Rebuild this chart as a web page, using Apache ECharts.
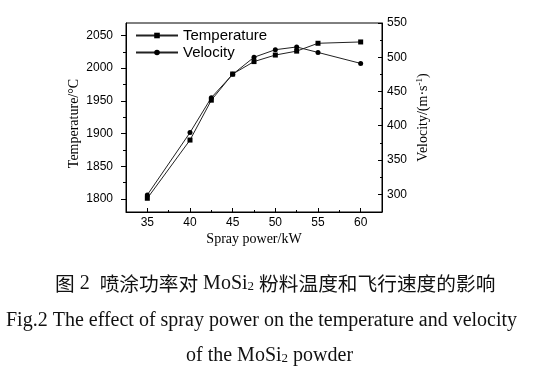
<!DOCTYPE html>
<html>
<head>
<meta charset="utf-8">
<script src="https://cdn.jsdelivr.net/npm/echarts@6/dist/echarts.min.js"></script>
<style>
html,body{margin:0;padding:0;background:#fff;}
#main{width:538px;height:383px;}
</style>
</head>
<body>
<div id="main"></div>
<script>
// Data
const sprayPower = [35, 40, 42.5, 45, 47.5, 50, 52.5, 55, 60];
const temperature = [1801, 1890, 1951, 1991, 2010, 2020, 2026, 2038, 2040];
const velocity = [299, 390, 441, 475, 500, 511, 515, 507, 491];

const xTicks = [35, 40, 45, 50, 55, 60];
const xMinorTicks = [37.5, 42.5, 47.5, 52.5, 57.5];
const tempTicks = [1800, 1850, 1900, 1950, 2000, 2050];
const tempMinorTicks = [1825, 1875, 1925, 1975, 2025];
const velTicks = [300, 350, 400, 450, 500, 550];
const velMinorTicks = [325, 375, 425, 475, 525];

const seriesNames = ['Temperature', 'Velocity'];

const tempData = sprayPower.map((x, i) => [x, temperature[i]]);
const velData = sprayPower.map((x, i) => [x, velocity[i]]);

const BLACK = '#000';
const sans = 'Liberation Sans, Arial, sans-serif';
const serif = 'Liberation Serif, Times New Roman, Noto Sans CJK SC, serif';
const cjk = 'Noto Sans CJK SC, sans-serif';
const plain = v => String(v);

const X_MIN = 32.5, X_MAX = 62.5;
const T_MIN = 1780, T_MAX = 2069;
const V_MIN = 274, V_MAX = 550;

const chart = echarts.init(document.getElementById('main'), null, {renderer: 'canvas'});

const capRich = {
  a: {fontFamily: serif, fontSize: 20, fontWeight: 'normal', color: '#111', lineHeight: 24},
  c: {fontFamily: cjk, fontSize: 19.7, fontWeight: 'normal', color: '#111', lineHeight: 24},
  s: {fontFamily: serif, fontSize: 13, fontWeight: 'normal', color: '#111', lineHeight: 24, verticalAlign: 'bottom', padding: [0, 0, 3, 0]}
};

chart.setOption({
  animation: false,
  backgroundColor: '#fff',
  grid: {left: 126, top: 23, width: 256, height: 189, show: true, borderColor: BLACK, borderWidth: 1, backgroundColor: 'transparent', containLabel: false},
  title: [
    {text: '{c|图}{a| 2  }{c|喷涂功率对}{a| MoSi}{s|2}{a| }{c|粉料温度和飞行速度的影响}', left: 55, top: 272, padding: 0, textStyle: {fontWeight: 'normal', rich: capRich}},
    {text: '{a|Fig.2 The effect of spray power on the temperature and velocity}', left: 6, top: 309, padding: 0, textStyle: {fontWeight: 'normal', rich: capRich}},
    {text: '{a|of the MoSi}{s|2}{a| powder}', left: 186, top: 344, padding: 0, textStyle: {fontWeight: 'normal', rich: capRich}}
  ],
  legend: {
    data: seriesNames,
    orient: 'vertical',
    left: 130, top: 23,
    itemWidth: 42, itemHeight: 7, itemGap: 2,
    textStyle: {fontFamily: sans, fontSize: 15, color: BLACK}
  },
  xAxis: [
    {
      type: 'value', min: X_MIN, max: X_MAX, position: 'bottom',
      name: 'Spray power/kW', nameLocation: 'middle', nameGap: 20,
      nameTextStyle: {fontFamily: serif, fontSize: 14, color: BLACK},
      axisLine: {show: true, lineStyle: {color: BLACK, width: 1}},
      axisTick: {show: true, inside: true, length: 4, customValues: xTicks, lineStyle: {color: BLACK}},
      axisLabel: {show: true, customValues: xTicks, formatter: plain, margin: 5, fontFamily: sans, fontSize: 12, color: BLACK},
      splitLine: {show: false}
    },
    {
      type: 'value', min: X_MIN, max: X_MAX, position: 'bottom',
      axisLine: {show: false},
      axisTick: {show: true, inside: true, length: 2, customValues: xMinorTicks, lineStyle: {color: BLACK}},
      axisLabel: {show: false},
      splitLine: {show: false}
    }
  ],
  yAxis: [
    {
      type: 'value', min: T_MIN, max: T_MAX, position: 'left',
      name: 'Temperature/°C', nameLocation: 'middle', nameGap: 45, nameRotate: 90,
      nameTextStyle: {fontFamily: serif, fontSize: 14, color: BLACK, padding: [0, 12, 0, 0]},
      axisLine: {show: true, lineStyle: {color: BLACK, width: 1}},
      axisTick: {show: true, inside: false, length: 5, customValues: tempTicks, lineStyle: {color: BLACK}},
      axisLabel: {show: true, customValues: tempTicks, formatter: plain, margin: 13, fontFamily: sans, fontSize: 12, color: BLACK},
      splitLine: {show: false}
    },
    {
      type: 'value', min: T_MIN, max: T_MAX, position: 'left',
      axisLine: {show: false},
      axisTick: {show: true, inside: false, length: 3, customValues: tempMinorTicks, lineStyle: {color: BLACK}},
      axisLabel: {show: false},
      splitLine: {show: false}
    },
    {
      type: 'value', min: V_MIN, max: V_MAX, position: 'right',
      name: '{a|Velocity/(m·s}{b|-1}{a|)}', nameLocation: 'middle', nameGap: 33, nameRotate: 90,
      nameTextStyle: {color: BLACK, rich: {
        a: {fontFamily: serif, fontSize: 14, color: BLACK, lineHeight: 16},
        b: {fontFamily: serif, fontSize: 9, color: BLACK, lineHeight: 16, verticalAlign: 'top', padding: [0, 0, 4, 0]}
      }},
      axisLine: {show: true, lineStyle: {color: BLACK, width: 1}},
      axisTick: {show: true, inside: true, length: 4, customValues: velTicks, lineStyle: {color: BLACK}},
      axisLabel: {show: true, customValues: velTicks, formatter: plain, margin: 5, fontFamily: sans, fontSize: 12, color: BLACK},
      splitLine: {show: false}
    },
    {
      type: 'value', min: V_MIN, max: V_MAX, position: 'right',
      axisLine: {show: false},
      axisTick: {show: true, inside: true, length: 2, customValues: velMinorTicks, lineStyle: {color: BLACK}},
      axisLabel: {show: false},
      splitLine: {show: false}
    }
  ],
  series: [
    {
      name: seriesNames[0], type: 'line', xAxisIndex: 0, yAxisIndex: 0,
      data: tempData, symbol: 'rect', symbolSize: 5, showAllSymbol: true,
      lineStyle: {color: '#222', width: 1}, itemStyle: {color: BLACK}
    },
    {
      name: seriesNames[1], type: 'line', xAxisIndex: 0, yAxisIndex: 2,
      data: velData, symbol: 'circle', symbolSize: 5, showAllSymbol: true,
      lineStyle: {color: '#222', width: 1}, itemStyle: {color: BLACK}
    }
  ]
});
</script>
</body>
</html>
